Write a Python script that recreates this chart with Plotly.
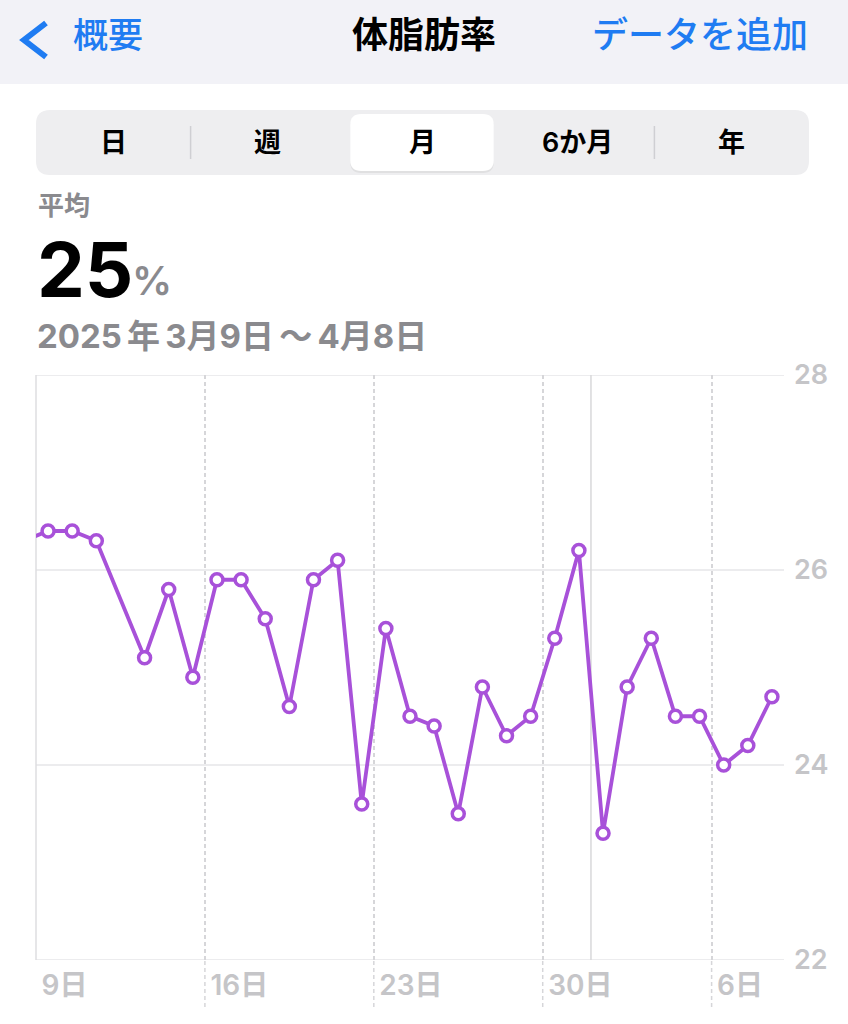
import plotly.graph_objects as go

# daily body-fat readings (%); 3/12 has no entry, 3/8 lies just left of the view
dates = ['2025-03-08', '2025-03-09', '2025-03-10', '2025-03-11', '2025-03-13',
         '2025-03-14', '2025-03-15', '2025-03-16', '2025-03-17', '2025-03-18',
         '2025-03-19', '2025-03-20', '2025-03-21', '2025-03-22', '2025-03-23',
         '2025-03-24', '2025-03-25', '2025-03-26', '2025-03-27', '2025-03-28',
         '2025-03-29', '2025-03-30', '2025-03-31', '2025-04-01', '2025-04-02',
         '2025-04-03', '2025-04-04', '2025-04-05', '2025-04-06', '2025-04-07',
         '2025-04-08']
values = [26.3, 26.4, 26.4, 26.3, 25.1,
          25.8, 24.9, 25.9, 25.9, 25.5,
          24.6, 25.9, 26.1, 23.6, 25.4,
          24.5, 24.4, 23.5, 24.8, 24.3,
          24.5, 25.3, 26.2, 23.3, 24.8,
          25.3, 24.5, 24.5, 24.0, 24.2,
          24.7]

view_start = '2025-03-09'
view_end = '2025-04-09'
month_start = '2025-04-01'
tick_dates = ['2025-03-09', '2025-03-16', '2025-03-23', '2025-03-30', '2025-04-06']
tick_text = ['9日', '16日', '23日', '30日', '6日']
y_ticks = [22, 24, 26, 28]
segments = ['日', '週', '月', '6か月', '年']
selected = '月'

title = '体脂肪率'
back_label = '概要'
add_label = 'データを追加'
range_label = '2025\u2009年\u20093月9日\u2009〜\u20094月8日'

# page geometry (pixels) of the plot area
W, H = 848, 1024
L, R, T, B = 36, 784, 375, 960

def X(px):
    return (px - L) / (R - L)

def Y(py):
    return (B - py) / (B - T)

def rrect(x0, y0, x1, y1, r):
    return (f'M {X(x0 + r)},{Y(y0)} L {X(x1 - r)},{Y(y0)} '
            f'Q {X(x1)},{Y(y0)} {X(x1)},{Y(y0 + r)} L {X(x1)},{Y(y1 - r)} '
            f'Q {X(x1)},{Y(y1)} {X(x1 - r)},{Y(y1)} L {X(x0 + r)},{Y(y1)} '
            f'Q {X(x0)},{Y(y1)} {X(x0)},{Y(y1 - r)} L {X(x0)},{Y(y0 + r)} '
            f'Q {X(x0)},{Y(y0)} {X(x0 + r)},{Y(y0)} Z')

purple = '#a851d9'
blue = '#1f7cf2'
gray_text = '#8a8a8e'
axis_text = '#c5c5c8'
font_main = "Inter, 'Noto Sans CJK JP', sans-serif"

visible = [v for d, v in zip(dates, values) if d >= view_start]
average = round(sum(visible) / len(visible))

fig = go.Figure(go.Scatter(
    x=[d + ' 12:00' for d in dates],
    y=values,
    mode='lines+markers',
    line=dict(color=purple, width=3.8),
    marker=dict(symbol='circle', size=12, color='white',
                line=dict(color=purple, width=3.5)),
    hoverinfo='skip',
))

shapes = []
# nav bar
shapes.append(dict(type='rect', xref='paper', yref='paper', layer='below',
                   x0=X(0), x1=X(W), y0=Y(0), y1=Y(84),
                   fillcolor='#f2f2f7', line=dict(width=0)))
# back chevron
shapes.append(dict(type='path', xref='paper', yref='paper',
                   path=f'M {X(46)},{Y(23)} L {X(24)},{Y(40)} L {X(46)},{Y(57)}',
                   line=dict(color=blue, width=6)))
# segmented control
shapes.append(dict(type='path', xref='paper', yref='paper', layer='below',
                   path=rrect(36, 110, 809, 175, 14),
                   fillcolor='#eeeef0', line=dict(width=0)))
seg_w = (809 - 36) / len(segments)
sel_i = segments.index(selected)
shapes.append(dict(type='path', xref='paper', yref='paper', layer='below',
                   path=rrect(36 + sel_i * seg_w + 5, 116, 36 + (sel_i + 1) * seg_w - 6, 173, 11),
                   fillcolor='rgba(0,0,0,0.06)', line=dict(width=0)))
shapes.append(dict(type='path', xref='paper', yref='paper', layer='below',
                   path=rrect(36 + sel_i * seg_w + 5, 114, 36 + (sel_i + 1) * seg_w - 6, 171, 11),
                   fillcolor='white', line=dict(width=0)))
for i in range(1, len(segments)):
    if i in (sel_i, sel_i + 1):
        continue
    sx = 36 + i * seg_w
    shapes.append(dict(type='line', xref='paper', yref='paper', layer='below',
                       x0=X(sx), x1=X(sx), y0=Y(126), y1=Y(159),
                       line=dict(color='#cfcfd3', width=1.5)))
# horizontal value lines, including the 22 / 28 edges
for v in y_ticks:
    shapes.append(dict(type='line', xref='paper', yref='y', layer='below',
                       x0=0, x1=1, y0=v, y1=v,
                       line=dict(color='#e6e6e9', width=1.5)))
# left border of the chart
shapes.append(dict(type='line', xref='paper', yref='paper', layer='between',
                   x0=0, x1=0, y0=0, y1=1, line=dict(color='#dedee0', width=1.5)))
# month boundary
shapes.append(dict(type='line', xref='x', yref='paper', layer='between',
                   x0=month_start, x1=month_start, y0=0, y1=1,
                   line=dict(color='#d8d8da', width=1.5)))
# week lines continue through the label row
for d in tick_dates[1:]:
    shapes.append(dict(type='line', xref='x', yref='paper', layer='between',
                       x0=d, x1=d, y0=Y(1007), y1=0,
                       line=dict(color='#d6d6d9', width=1.5, dash='4px,3px')))

annotations = [
    dict(text=back_label, x=X(71), y=Y(35), xanchor='left', yanchor='middle',
         font=dict(family=font_main, size=35, color=blue, weight=500)),
    dict(text=title, x=X(424), y=Y(35), xanchor='center', yanchor='middle',
         font=dict(family=font_main, size=36, color='black', weight=700)),
    dict(text=add_label, x=X(810), y=Y(35), xanchor='right', yanchor='middle',
         font=dict(family=font_main, size=36, color=blue, weight=500)),
    dict(text='平均', x=X(36), y=Y(206), xanchor='left', yanchor='middle',
         font=dict(family=font_main, size=26, color=gray_text, weight=700)),
    dict(text=str(average), x=X(35), y=Y(269), xanchor='left', yanchor='middle',
         font=dict(family=font_main, size=76, color='black', weight=700)),
    dict(text='%', x=X(130), y=Y(281), xanchor='left', yanchor='middle',
         font=dict(family=font_main, size=40, color=gray_text, weight=600)),
    dict(text=range_label, x=X(35), y=Y(336), xanchor='left', yanchor='middle',
         font=dict(family=font_main, size=33, color=gray_text, weight=700)),
]
for i, s in enumerate(segments):
    annotations.append(dict(text=s, x=X(36 + (i + 0.5) * seg_w), y=Y(142),
                            xanchor='center', yanchor='middle',
                            font=dict(family=font_main, size=27, color='black', weight=600)))
for a in annotations:
    a.update(xref='paper', yref='paper', showarrow=False)

fig.update_layout(
    width=W, height=H, autosize=False,
    margin=dict(l=L, r=W - R, t=T, b=H - B, pad=0),
    paper_bgcolor='white', plot_bgcolor='rgba(0,0,0,0)',
    showlegend=False,
    shapes=shapes,
    annotations=annotations,
    xaxis=dict(
        type='date', range=[view_start, view_end],
        tickmode='array', tickvals=tick_dates, ticktext=tick_text,
        ticklabelposition='outside right', ticklabelshift=5,
        ticks='outside', ticklen=6, tickcolor='rgba(0,0,0,0)',
        showline=False, zeroline=False,
        showgrid=True, gridcolor='#d6d6d9', gridwidth=1.5, griddash='4px,3px',
        tickfont=dict(family=font_main, size=28, color=axis_text, weight=600),
        fixedrange=True,
    ),
    yaxis=dict(
        side='right', range=[22, 28],
        tickmode='array', tickvals=y_ticks,
        ticks='', ticklabelstandoff=9,
        showline=False, zeroline=False, showgrid=False,
        tickfont=dict(family=font_main, size=27, color=axis_text, weight=600),
        fixedrange=True,
    ),
)

fig.write_html("out.html", config={'displayModeBar': False},
               post_script="document.body.style.margin='0';")
